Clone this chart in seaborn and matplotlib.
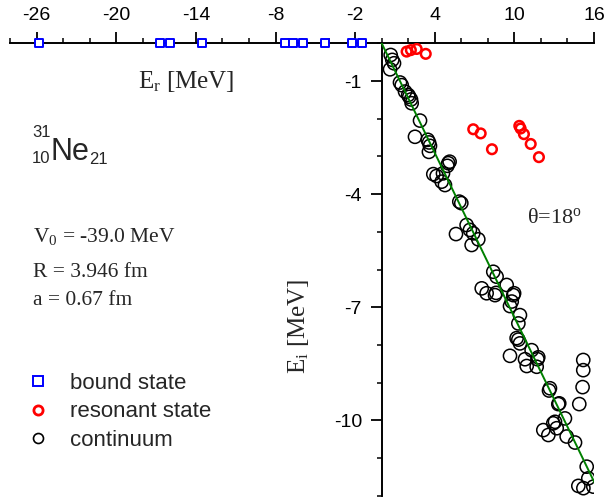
import numpy as np
import matplotlib
matplotlib.use("Agg")
import matplotlib.pyplot as plt
from matplotlib.ticker import FixedLocator, MultipleLocator
from matplotlib.lines import Line2D
import seaborn as sns

W, H = 608, 501

# Bound states (real energies, Ei = 0)
bound_er = [-25.8, -16.7, -15.95, -13.56, -7.29, -6.71, -5.95, -4.27, -2.24, -1.49]
bound_ei = [0.0] * len(bound_er)

# Resonant states
res_er = [1.88, 2.20, 2.64, 3.32, 6.90, 7.46, 8.31, 10.37, 10.47, 10.72, 11.23, 11.85]
res_ei = [-0.22, -0.18, -0.15, -0.28, -2.28, -2.39, -2.81, -2.19, -2.26, -2.41, -2.67, -3.02]

# Discretised continuum
cont_er = [0.68, 0.80, 0.93, 0.63, 1.38, 1.51, 1.76, 2.00, 2.08, 2.21, 2.26, 2.89, 2.51, 3.47, 3.57, 3.64, 3.56,
           5.02, 5.12, 4.95, 3.89, 4.14, 4.62, 4.52, 4.77, 5.85, 6.00, 6.40, 6.65, 5.60, 6.90, 7.28, 6.78, 8.41, 8.66,
           7.54, 7.91, 8.54, 8.62, 9.42, 9.92, 9.98, 9.80, 9.67, 10.42, 10.30, 10.17, 10.30, 10.42, 9.67, 11.30,
           11.80, 11.74, 10.80, 10.93, 11.68, 12.68,
           15.19, 15.19, 15.14, 14.89,
           12.61, 13.31, 13.38, 13.81, 13.06, 12.93, 13.19, 12.18, 12.56, 13.94, 14.57, 15.45, 15.57, 14.82, 15.20, 15.95]
cont_ei = [-0.31, -0.44, -0.53, -0.69, -1.04, -1.11, -1.28, -1.37, -1.42, -1.49, -1.59, -2.05, -2.48, -2.56, -2.63, -2.72, -2.88,
           -3.18, -3.14, -3.25, -3.47, -3.52, -3.45, -3.67, -3.76, -4.20, -4.24, -4.82, -4.95, -5.06, -5.04, -5.20, -5.35, -6.06, -6.19,
           -6.50, -6.63, -6.68, -6.62, -6.41, -6.68, -6.63, -6.85, -6.97, -7.21, -7.43, -7.82, -7.86, -7.96, -8.29, -8.14,
           -8.33, -8.38, -8.38, -8.56, -8.58, -9.15,
           -8.40, -8.67, -9.12, -9.57,
           -9.21, -9.57, -9.55, -9.95, -10.04, -10.08, -10.21, -10.26, -10.39, -10.43, -10.59, -11.23, -11.54, -11.74, -11.80, -11.76]

# Complex-scaling angle and the rotated continuum line Ei = -tan(2*theta) * Er
theta_deg = 18
line_er = np.array([0.0, 17.0])
line_ei = -np.tan(np.radians(2 * theta_deg)) * line_er

x_major_ticks = [-26, -20, -14, -8, -2, 4, 10, 16]
y_major_ticks = [-1, -4, -7, -10]

sns.set_style("ticks")
plt.rcParams.update({
    "font.family": ["Liberation Sans", "DejaVu Sans"],
    "axes.unicode_minus": False,
    "mathtext.fontset": "custom",
    "mathtext.rm": "Liberation Serif",
    "mathtext.it": "Liberation Serif:italic",
    "mathtext.bf": "Liberation Serif:bold",
})

SERIF = ["Liberation Serif", "DejaVu Serif"]

fig = plt.figure(figsize=(W / 100, H / 100), dpi=100)
ax = fig.add_axes([10.1 / W, 5.3 / H, 583.9 / W, 452.4 / H])

sns.scatterplot(x=cont_er, y=cont_ei, ax=ax, marker="o", s=90, facecolors="none",
                edgecolor="black", linewidth=1.1, zorder=3)
sns.scatterplot(x=res_er, y=res_ei, ax=ax, marker="o", s=48, facecolors="none",
                edgecolor="#ff0000", linewidth=1.8, zorder=4)
sns.scatterplot(x=bound_er, y=bound_ei, ax=ax, marker="s", s=26, facecolors="white",
                edgecolor="#0000ff", linewidth=1.4, zorder=5, clip_on=False)
sns.lineplot(x=line_er, y=line_ei, ax=ax, color="#008000", linewidth=1.4, zorder=6)

ax.set_xlim(-28, 16)
ax.set_ylim(-12, 0)

for side in ("right", "bottom"):
    ax.spines[side].set_visible(False)
ax.spines["left"].set_position(("data", 0))
for side in ("left", "top"):
    ax.spines[side].set_linewidth(1.4)
    ax.spines[side].set_color("black")

ax.xaxis.tick_top()
ax.xaxis.set_major_locator(FixedLocator(x_major_ticks))
ax.xaxis.set_minor_locator(MultipleLocator(2))
ax.yaxis.set_major_locator(FixedLocator(y_major_ticks))
ax.yaxis.set_minor_locator(MultipleLocator(1))
ax.tick_params(which="major", length=7.9, width=1.3, direction="out", labelsize=14,
               pad=6.3, colors="black")
ax.tick_params(which="minor", length=3.8, width=1.3, direction="out")
for lab in ax.get_xticklabels() + ax.get_yticklabels():
    lab.set_fontfamily(["Liberation Sans", "DejaVu Sans"])

ax.set_xlabel(r"E$_\mathrm{r}$ [MeV]", fontsize=18, fontfamily=SERIF)
ax.xaxis.set_label_coords((186 - 10.1) / 583.9, (495.7 - 69) / 452.4)
ax.set_ylabel(r"E$_\mathrm{i}$ [MeV]", fontsize=18, fontfamily=SERIF)
ax.yaxis.set_label_coords((311 - 10.1) / 583.9, (495.7 - 326) / 452.4)


def ftext(x, y, s, **kw):
    fig.text(x / W, 1 - y / H, s, **kw)


# Nucleus label
ftext(50.5, 160, "Ne", fontsize=22, va="baseline", ha="left")
ftext(32, 137, "31", fontsize=12, va="baseline", ha="left")
ftext(32, 163, "10", fontsize=12, va="baseline", ha="left")
ftext(89, 163.5, "21", fontsize=12, va="baseline", ha="left")

# Potential parameters
ftext(33, 242, r"V$_0$ = -39.0 MeV", fontsize=15.5, fontfamily=SERIF, va="baseline")
ftext(33, 277, "R = 3.946 fm", fontsize=15.5, fontfamily=SERIF, va="baseline")
ftext(33, 305, "a = 0.67 fm", fontsize=15.5, fontfamily=SERIF, va="baseline")

ftext(527, 222.7, r"θ=%d$^\mathrm{o}$" % theta_deg, fontsize=16, fontfamily=SERIF, va="baseline")

handles = [
    Line2D([], [], marker="s", ls="none", ms=7.0, mfc="none", mec="#0000ff", mew=1.4),
    Line2D([], [], marker="o", ls="none", ms=6.6, mfc="none", mec="#ff0000", mew=2.0),
    Line2D([], [], marker="o", ls="none", ms=7.2, mfc="none", mec="black", mew=1.2),
]
labels = ["bound state", "resonant state", "continuum"]
fig.legend(handles, labels, loc="upper left", bbox_to_anchor=(27.1 / W, 1 - 373 / H),
           frameon=False, fontsize=16, handlelength=0.98, handletextpad=0.95,
           labelspacing=0.33, borderpad=0, borderaxespad=0)

fig.savefig("out.png", dpi=100)
